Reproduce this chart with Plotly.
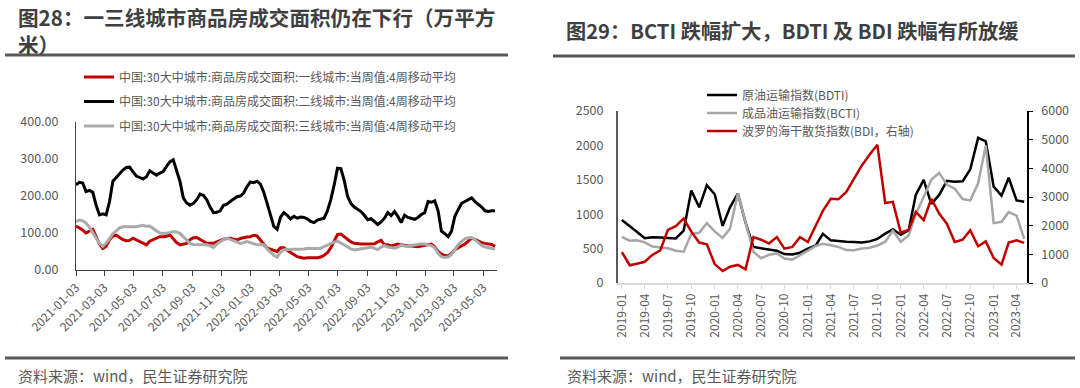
import plotly.graph_objects as go
import pandas as pd

# ---------------- Left chart data (weekly, 4-week moving average, 万平方米) ----------------
weeks = pd.date_range("2021-01-03", periods=126, freq="7D")

tier1 = [119,114,108,100,106,110,90,70,58,64,
         82,92,94,88,82,79,80,86,82,77,
         72,68,78,82,84,90,90,91,95,84,
         74,68,70,72,82,87,88,83,78,72,
         72,72,76,80,83,85,86,83,81,85,
         88,89,90,94,92,81,70,59,56,54,
         50,60,60,53,47,42,36,34,32,33,
         34,33,33,35,40,47,60,80,96,97,
         90,83,76,72,70,70,70,70,70,71,
         76,80,68,68,65,68,70,68,66,65,
         65,64,63,65,67,69,70,63,50,43,
         39,38,45,55,60,63,70,78,86,83,
         78,74,72,71,69,64]

tier2 = [230,237,235,212,215,210,175,149,152,149,
         185,240,250,260,270,277,278,265,254,250,
         246,252,268,262,256,262,266,280,292,298,
         270,240,195,181,175,180,190,205,202,190,
         170,155,156,160,175,178,185,192,198,200,
         208,225,238,236,240,232,210,180,145,118,
         110,143,155,148,138,145,140,143,142,138,
         131,128,135,137,140,160,190,230,275,274,
         242,199,180,170,164,158,148,136,139,131,
         123,130,140,155,147,158,145,128,148,142,
         140,137,142,150,155,185,183,187,160,105,
         98,90,105,145,163,180,185,190,195,185,
         178,170,160,158,160,160]

tier3 = [131,135,133,127,115,100,84,72,64,73,
         85,98,106,114,117,117,116,116,117,119,
         121,118,119,112,105,100,99,99,101,104,
         103,99,90,80,72,69,69,68,68,68,
         65,61,70,77,82,86,83,80,76,72,
         74,77,74,70,68,68,68,57,48,40,
         35,48,55,56,56,56,56,56,57,59,
         58,57,58,59,62,67,72,76,78,73,
         67,62,57,54,55,57,58,60,62,58,
         55,62,66,62,60,59,62,67,65,63,
         66,68,70,71,70,68,66,60,45,36,
         34,35,42,55,68,77,84,87,88,82,
         75,66,62,60,58,57]

left_ticks = ["2021-01-03","2021-03-03","2021-05-03","2021-07-03","2021-09-03",
              "2021-11-03","2022-01-03","2022-03-03","2022-05-03","2022-07-03",
              "2022-09-03","2022-11-03","2023-01-03","2023-03-03","2023-05-03"]

name1 = "中国:30大中城市:商品房成交面积:一线城市:当周值:4周移动平均"
name2 = "中国:30大中城市:商品房成交面积:二线城市:当周值:4周移动平均"
name3 = "中国:30大中城市:商品房成交面积:三线城市:当周值:4周移动平均"

# ---------------- Right chart data (monthly) ----------------
months = pd.date_range("2019-01-01", periods=53, freq="MS")

bdti = [915,830,745,650,665,660,655,648,760,1345,
        1100,1420,1290,830,1100,1300,880,524,505,490,
        470,420,415,440,500,545,715,620,608,600,
        595,590,605,640,718,780,700,767,1280,1500,
        1150,1280,1485,1471,1480,1650,2110,2060,1400,1270,
        1530,1200,1180]

bcti = [670,615,620,590,530,520,505,470,455,715,
        730,870,750,655,790,1300,900,455,360,410,
        430,355,340,400,470,540,570,548,524,478,
        476,500,512,545,600,760,600,690,1000,1250,
        1500,1600,1430,1370,1220,1200,1450,2000,870,890,
        1030,980,640]

bdi = [1080,620,670,740,980,1140,1850,1980,2250,1790,
       1410,1350,660,420,570,630,480,1600,1510,1380,
       1600,1200,1260,1600,1430,2010,2520,2940,2920,3180,
       3650,4100,4480,4820,2790,2830,1760,1850,2480,2190,
       2940,2420,2070,1430,1510,1840,1280,1450,870,640,
       1410,1490,1400]

right_tick_labels = ["2019-01","2019-04","2019-07","2019-10","2020-01","2020-04",
                     "2020-07","2020-10","2021-01","2021-04","2021-07","2021-10",
                     "2022-01","2022-04","2022-07","2022-10","2023-01","2023-04"]
right_tick_vals = [lbl + "-01" for lbl in right_tick_labels]

FONT = "Noto Sans CJK SC, Microsoft YaHei, sans-serif"
W, H = 1080, 388

def px_x(x):
    return x / W

def px_y(y):
    return 1 - y / H

fig = go.Figure()

# left chart traces (each with its own one-item legend for exact row placement)
fig.add_trace(go.Scatter(x=weeks, y=tier1, name=name1, mode="lines",
                         line=dict(color="#C00000", width=3),
                         xaxis="x", yaxis="y", legend="legend"))
fig.add_trace(go.Scatter(x=weeks, y=tier2, name=name2, mode="lines",
                         line=dict(color="#000000", width=3),
                         xaxis="x", yaxis="y", legend="legend2"))
fig.add_trace(go.Scatter(x=weeks, y=tier3, name=name3, mode="lines",
                         line=dict(color="#AAAAAA", width=3),
                         xaxis="x", yaxis="y", legend="legend3"))

# right chart traces
fig.add_trace(go.Scatter(x=months, y=bdti, name="原油运输指数(BDTI)", mode="lines",
                         line=dict(color="#000000", width=2.5),
                         xaxis="x2", yaxis="y2", legend="legend4"))
fig.add_trace(go.Scatter(x=months, y=bcti, name="成品油运输指数(BCTI)", mode="lines",
                         line=dict(color="#A6A6A6", width=2.5),
                         xaxis="x2", yaxis="y2", legend="legend5"))
fig.add_trace(go.Scatter(x=months, y=bdi, name="波罗的海干散货指数(BDI，右轴)", mode="lines",
                         line=dict(color="#C00000", width=2.5),
                         xaxis="x2", yaxis="y3", legend="legend6"))

tickfont = dict(family=FONT, size=12, color="#595959")

def leg(xpx, ypx):
    return dict(x=px_x(xpx), y=px_y(ypx), xanchor="left", yanchor="middle",
                bgcolor="rgba(0,0,0,0)", borderwidth=0,
                font=dict(family=FONT, size=12, color="#595959"),
                itemwidth=30)

fig.update_layout(
    template="none",
    width=W, height=H, autosize=False,
    margin=dict(l=0, r=0, t=0, b=0, pad=0),
    paper_bgcolor="white", plot_bgcolor="white",
    font=dict(family=FONT, color="#595959"),
    xaxis=dict(domain=[px_x(76), px_x(497)], anchor="y", type="date", automargin=False,
               range=["2021-01-03", "2023-06-01"],
               tickmode="array", tickvals=left_ticks, ticktext=left_ticks,
               tickangle=-45, ticks="outside", ticklen=5, tickcolor="#404040",
               showline=True, linecolor="#404040", linewidth=1,
               showgrid=False, zeroline=False, tickfont=tickfont),
    yaxis=dict(domain=[px_y(270), px_y(122)], anchor="x", range=[0, 400], dtick=100,
               automargin=False,
               tickformat=".2f", showline=True, linecolor="#404040", linewidth=1,
               ticks="", showgrid=False, zeroline=False,
               tickfont=dict(family=FONT, size=12.5, color="#595959"),
               ticklabelstandoff=14),
    xaxis2=dict(domain=[px_x(618), px_x(1027)], anchor="y2", type="date", automargin=False,
                range=["2018-12-17", "2023-05-12"],
                tickmode="array", tickvals=right_tick_vals, ticktext=right_tick_labels,
                tickangle=-90, ticks="outside", ticklen=4, tickcolor="#D9D9D9",
                showline=True, linecolor="#D9D9D9", linewidth=1.5,
                showgrid=False, zeroline=False, tickfont=tickfont),
    yaxis2=dict(domain=[px_y(283), px_y(111)], anchor="x2", range=[0, 2500], dtick=500,
                automargin=False,
                showline=True, linecolor="#595959", linewidth=2, ticks="",
                showgrid=False, zeroline=False,
                tickfont=dict(family=FONT, size=12.5, color="#595959"),
                ticklabelstandoff=10),
    yaxis3=dict(overlaying="y2", side="right", anchor="x2", range=[0, 6000], dtick=1000,
                automargin=False,
                showline=True, linecolor="#000000", linewidth=1.5,
                ticks="outside", ticklen=4, tickcolor="#000000",
                showgrid=False, zeroline=False,
                tickfont=dict(family=FONT, size=12.5, color="#595959"),
                ticklabelstandoff=6),
    legend=leg(79, 77),
    legend2=leg(79, 101.5),
    legend3=leg(79, 126),
    legend4=leg(702, 95),
    legend5=leg(702, 113),
    legend6=leg(702, 131),
    showlegend=True,
)

# titles
fig.add_annotation(x=px_x(16), y=px_y(31), xref="paper", yref="paper",
                   xanchor="left", yanchor="middle", showarrow=False, align="left",
                   text="<b>图28：一三线城市商品房成交面积仍在下行（万平方<br>米）</b>",
                   font=dict(family=FONT, size=20.6, color="#3F3F3F"))
fig.add_annotation(x=px_x(564), y=px_y(31), xref="paper", yref="paper",
                   xanchor="left", yanchor="middle", showarrow=False,
                   text="<b>图29：BCTI 跌幅扩大，BDTI 及 BDI 跌幅有所放缓</b>",
                   font=dict(family=FONT, size=20.2, color="#3F3F3F"))

# sources
for x0 in (16, 565):
    fig.add_annotation(x=px_x(x0), y=px_y(375), xref="paper", yref="paper",
                       xanchor="left", yanchor="middle", showarrow=False,
                       text="资料来源：wind，民生证券研究院",
                       font=dict(family=FONT, size=15, color="#595959"))

# separator lines
for (x0, x1, y) in [(5, 508, 55), (553, 1075, 56), (5, 508, 358), (560, 1075, 358)]:
    fig.add_shape(type="line", xref="paper", yref="paper",
                  x0=px_x(x0), x1=px_x(x1), y0=px_y(y), y1=px_y(y),
                  line=dict(color="#595959", width=3))

fig.write_html("out.html", config={"displayModeBar": False},
               post_script="document.body.style.margin='0';document.body.style.overflow='hidden';")
